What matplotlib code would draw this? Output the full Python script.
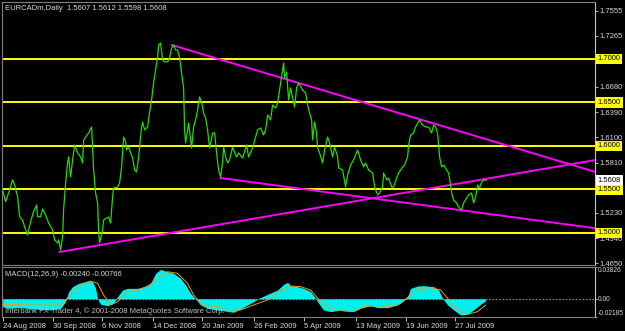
import matplotlib
matplotlib.use("Agg")
import matplotlib.pyplot as plt
import matplotlib.transforms as mtransforms

plt.rcParams['font.family'] = ['Liberation Sans', 'DejaVu Sans']

# ---- daily close, bar index from 24 Aug 2008 ----
bars = [
    0, 1.5, 3, 5, 6, 7.5, 8.5, 10, 11, 12.5,
    14, 15.5, 17, 17.5, 19, 20, 21.5, 23, 25, 26,
    27.5, 28, 29, 30, 30.5, 31.5, 32.5, 33, 34, 35,
    36, 37.5, 39, 40, 40.5, 41.5, 43, 44.5, 45, 45.5,
    46.5, 47.5, 48, 48.5, 50, 50.5, 52, 53, 54, 55,
    55.5, 57.5, 58.5, 59.5, 60.5, 61.5, 62, 63, 65, 66,
    67, 68, 69.5, 70, 71, 72.5, 73.5, 74.5, 75.5, 76.5,
    77.5, 78, 79, 80, 81, 82.5, 83.5, 84.5, 85.5, 86.5,
    87.5, 88.5, 89.5, 90.5, 91, 91.5, 92.5, 93, 94.5, 95.5,
    96.5, 97.5, 98.5, 99.5, 100.5, 101.5, 102.5, 103.5, 105, 106,
    107, 108, 109, 110, 110.5, 111.5, 112.5, 113.5, 115, 115.5,
    117, 118, 120, 122, 123, 125, 126.5, 127.5, 129, 130.5,
    131.5, 132.5, 134, 135, 136.5, 137.5, 138.5, 140, 140.5, 141,
    142, 143, 144, 145, 146, 147, 148, 150, 151.5, 152.5,
    153.5, 154.5, 155, 156, 157, 157.5, 158.5, 160, 161, 162.5,
    163.5, 165, 166, 167.5, 168, 170, 171.5, 172.5, 174, 175.5,
    177.5, 179, 180.5, 181.5, 183, 185, 186, 187.5, 188.5, 190,
    190.5, 192, 193, 194.5, 195.5, 197, 198, 200, 201, 202.5,
    203, 204, 205.5, 206.5, 207.5, 208.5, 210, 211.5, 213, 214.5,
    215.5, 216.5, 217.5, 218, 218.5, 219.5, 220.5, 222, 223, 224,
    224.5, 225.5, 227, 228, 229.5, 230.5, 232, 233, 234.5, 235.5,
    236.5, 237.5, 238.5, 239.5, 240.5, 242]
closes = [
    1.5494, 1.5360, 1.5460, 1.5609, 1.5552, 1.5417, 1.5187, 1.5149, 1.5072, 1.4977,
    1.5130, 1.5245, 1.5322, 1.5187, 1.5187, 1.5276, 1.5207, 1.5115, 1.5034, 1.4920,
    1.4885, 1.4920, 1.4805, 1.4957, 1.5264, 1.5575, 1.5805, 1.5874, 1.5644, 1.5839,
    1.6011, 1.5920, 1.5874, 1.5805, 1.6069, 1.6103, 1.6149, 1.6218, 1.5989, 1.5724,
    1.5460, 1.5345, 1.5034, 1.4885, 1.5034, 1.5149, 1.5172, 1.5184, 1.5115, 1.5414,
    1.5517, 1.5529, 1.5575, 1.5759, 1.6103, 1.6046, 1.5954, 1.5989, 1.5862, 1.5724,
    1.5701, 1.5874, 1.6218, 1.6276, 1.6184, 1.6218, 1.6391, 1.6529, 1.6724, 1.6874,
    1.7023, 1.7161, 1.7184, 1.6989, 1.6966, 1.6966, 1.7011, 1.7126, 1.7161, 1.7103,
    1.7103, 1.7011, 1.6839, 1.6667, 1.6184, 1.6034, 1.6184, 1.6264, 1.5977, 1.6218,
    1.6299, 1.6414, 1.6563, 1.6506, 1.6379, 1.6322, 1.6184, 1.5977, 1.6149, 1.6149,
    1.5920, 1.5724, 1.5644, 1.5816, 1.5989, 1.5874, 1.5805, 1.5839, 1.5989, 1.5954,
    1.5874, 1.5920, 1.5862, 1.6011, 1.5874, 1.5977, 1.6103, 1.6184, 1.6207, 1.6126,
    1.6184, 1.6356, 1.6299, 1.6471, 1.6437, 1.6494, 1.6644, 1.6874, 1.6954, 1.6782,
    1.6851, 1.6529, 1.6667, 1.6552, 1.6448, 1.6667, 1.6724, 1.6644, 1.6609, 1.6471,
    1.6379, 1.6299, 1.6069, 1.6276, 1.6149, 1.5977, 1.5920, 1.5805, 1.5954, 1.6103,
    1.6034, 1.5874, 1.5989, 1.5874, 1.5747, 1.5724, 1.5529, 1.5667, 1.5782, 1.5839,
    1.5954, 1.5839, 1.5759, 1.5805, 1.5724, 1.5690, 1.5529, 1.5437, 1.5460, 1.5529,
    1.5690, 1.5609, 1.5632, 1.5529, 1.5529, 1.5632, 1.5690, 1.5759, 1.5782, 1.5874,
    1.6011, 1.6126, 1.6149, 1.6218, 1.6264, 1.6299, 1.6241, 1.6218, 1.6218, 1.6149,
    1.6241, 1.6218, 1.6149, 1.6011, 1.5874, 1.5759, 1.5782, 1.5724, 1.5690, 1.5552,
    1.5460, 1.5379, 1.5345, 1.5299, 1.5264, 1.5345, 1.5402, 1.5437, 1.5460, 1.5345,
    1.5414, 1.5552, 1.5517, 1.5586, 1.5609, 1.5608]

# horizontal levels and trendlines (bar, price) -> (bar, price)
levels = [1.7000, 1.6500, 1.6000, 1.5500, 1.5000]
trend_x = [[84.5, 296.5], [109, 296.5], [28.5, 296.5]]
trend_y = [[1.7161, 1.5701], [1.5632, 1.5054], [1.4782, 1.5839]]
last_price = 1.5608

price_ticks = [1.7555, 1.7265, 1.6970, 1.6680, 1.6390, 1.6100,
               1.5810, 1.5520, 1.5230, 1.4940, 1.4650]
hidden_ticks = [1.6970, 1.5520]   # sit under the level boxes

# ---- MACD(12,26,9) ----
hist_bar = [0, 2.3, 9, 15.5, 24, 29, 31.5, 33, 35, 38,
            42.5, 45, 46.5, 47.5, 49, 52.5, 55.5, 57.5, 60, 62.5,
            67.5, 70.5, 74, 76.5, 79, 82.5, 85.5, 89, 91.5, 94,
            96.5, 99, 102.5, 107.5, 115.5, 119, 122.5, 125.5, 128, 132.5,
            137.5, 140.5, 142.5, 144, 147.5, 150.5, 154, 156.5, 158, 160.5,
            164, 169, 172.5, 175.5, 179, 184, 187.5, 192.5, 197.5, 200.5,
            202.5, 204, 207.5, 210.5, 215.5, 218, 220, 222.5, 225.5, 229,
            232.5, 235.5, 239, 241.5]
hist_val = [-0.0094, -0.0114, -0.0106, -0.0122, -0.0134, -0.0114, -0.0034, 0.0086, 0.0146, 0.0186,
            0.0214, 0.0206, 0.0126, -0.0002, -0.0066, -0.0082, -0.0054, 0.0026, 0.0106, 0.0126,
            0.0126, 0.0146, 0.0186, 0.0306, 0.0354, 0.0326, 0.0306, 0.0246, 0.0166, 0.0066,
            -0.0002, -0.0074, -0.0114, -0.0134, -0.0162, -0.0122, -0.0074, -0.0034, 0.0006, 0.0054,
            0.0106, 0.0174, 0.0198, 0.0158, 0.0146, 0.0126, 0.0086, 0.0006, -0.0054, -0.0134,
            -0.0154, -0.0134, -0.0146, -0.0154, -0.0114, -0.0082, -0.0106, -0.0106, -0.0074, -0.0026,
            0.0026, 0.0126, 0.0154, 0.0158, 0.0146, 0.0106, 0.0006, -0.0074, -0.0134, -0.0194,
            -0.0186, -0.0134, -0.0066, -0.0024]
sig_bar = [0, 15.5, 29, 34, 39, 44, 47.5, 50.5, 54, 57.5,
           62.5, 67.5, 72.5, 77.5, 82.5, 87.5, 92.5, 95.5, 99, 102.5,
           107.5, 114, 119, 125.5, 132.5, 139, 144, 149, 154, 159,
           164, 170.5, 175.5, 180.5, 187.5, 194, 199, 204, 209, 214,
           219, 222.5, 227.5, 232.5, 237.5, 241.5]
sig_val = [-0.0066, -0.0074, -0.0074, 0.0046, 0.0166, 0.0214, 0.0186, 0.0046, -0.0074, -0.0034,
           0.0078, 0.0106, 0.0146, 0.0246, 0.0326, 0.0306, 0.0186, 0.0046, -0.0054, -0.0082,
           -0.0094, -0.0154, -0.0134, -0.0074, -0.0014, 0.0086, 0.0154, 0.0146, 0.0106, -0.0034,
           -0.0114, -0.0146, -0.0154, -0.0094, -0.0082, -0.0094, -0.0054, 0.0046, 0.0126, 0.0134,
           0.0106, 0.0006, -0.0134, -0.0186, -0.0154, -0.00766]
macd_top, macd_bottom = 0.03826, -0.02185

date_pos = [0, 25, 49.5, 75, 99.5, 125.5, 150.5, 176.5, 201.5, 226]
date_labels = ['24 Aug 2008', '30 Sep 2008', '6 Nov 2008', '14 Dec 2008', '20 Jan 2009',
               '26 Feb 2009', '5 Apr 2009', '13 May 2009', '19 Jun 2009', '27 Jul 2009']

txt = '#d8d8d8'
fs = 5.5
W, H = 625, 331

fig = plt.figure(figsize=(W / 100, H / 100), dpi=100, facecolor='black')
ax = fig.add_axes([2 / W, 1 - 265 / H, 593 / W, 263 / H], facecolor='black')
axm = fig.add_axes([2 / W, 1 - 317 / H, 593 / W, 50 / H], facecolor='black')

for a in (ax, axm):
    a.set_xlim(-0.3, 296.2)
    for s in ('left', 'top', 'bottom'):
        a.spines[s].set_color('#808080')
        a.spines[s].set_linewidth(0.8)
    a.spines['right'].set_color('#c8c8c8')
    a.spines['right'].set_linewidth(0.8)
    a.yaxis.tick_right()
    a.tick_params(axis='y', colors=txt, labelsize=fs, length=2, width=0.6, pad=1.2)

# ---- main price panel ----
ax.set_ylim(1.4632, 1.7655)
for lv in levels:
    ax.axhline(lv, color='#ffff00', lw=1.4, zorder=2)
for tx, ty in zip(trend_x, trend_y):
    ax.plot(tx, ty, color='#ff00ff', lw=1.4, zorder=3)
ax.plot(bars, closes, color='#22dd00', lw=0.9, zorder=4)

ax.set_yticks(price_ticks)
ax.set_yticklabels(['' if v in hidden_ticks else '%.4f' % v for v in price_ticks])
ax.set_xticks([])

tr = mtransforms.blended_transform_factory(ax.transAxes, ax.transData)
for lv in levels:
    ax.text(1.005, lv, '%.4f' % lv, transform=tr, fontsize=fs, color='black',
            va='center', ha='left', clip_on=False, zorder=10,
            bbox=dict(boxstyle='square,pad=0.2', fc='#ffff00', ec='none'))
ax.text(1.005, last_price, '%.4f' % last_price, transform=tr, fontsize=fs, color='black',
        va='center', ha='left', clip_on=False, zorder=10,
        bbox=dict(boxstyle='square,pad=0.2', fc='white', ec='none'))

ax.text(0.005, 0.977, 'EURCADm,Daily  1.5607 1.5612 1.5598 1.5608', transform=ax.transAxes,
        fontsize=fs, color=txt, va='center', ha='left')

# ---- MACD panel ----
axm.set_ylim(macd_bottom, macd_top)
axm.axhline(0, color='#909090', lw=0.8, ls=(0, (1.5, 1.5)), zorder=1)
axm.fill_between(hist_bar, hist_val, 0, color='#00f0f0', lw=0, zorder=2)
axm.plot(sig_bar, sig_val, color='#e0a020', lw=0.7, zorder=3)

axm.set_yticks([macd_top, 0, macd_bottom])
axm.set_yticklabels(['%.5f' % macd_top, '0.00', '%.5f' % macd_bottom])
axm.tick_params(axis='y', labelsize=4.8, length=1.5, pad=0.5)
tl = axm.get_yticklabels()
tl[0].set_va('top')
tl[2].set_va('bottom')

axm.set_xticks(date_pos)
axm.set_xticklabels(date_labels, ha='left')
axm.tick_params(axis='x', colors=txt, labelsize=fs, length=3, width=0.6, pad=1.5)

axm.text(0.005, 0.86, 'MACD(12,26,9) -0.00240 -0.00766', transform=axm.transAxes,
         fontsize=fs, color=txt, va='center', ha='left', zorder=5)
axm.text(0.005, 0.12, 'Interbank FX Trader 4, \u00a9 2001-2008 MetaQuotes Software Corp.',
         transform=axm.transAxes, fontsize=fs, color='#c0c0c0', va='center', ha='left', zorder=5)

fig.savefig('out.png', dpi=100, facecolor='black')
